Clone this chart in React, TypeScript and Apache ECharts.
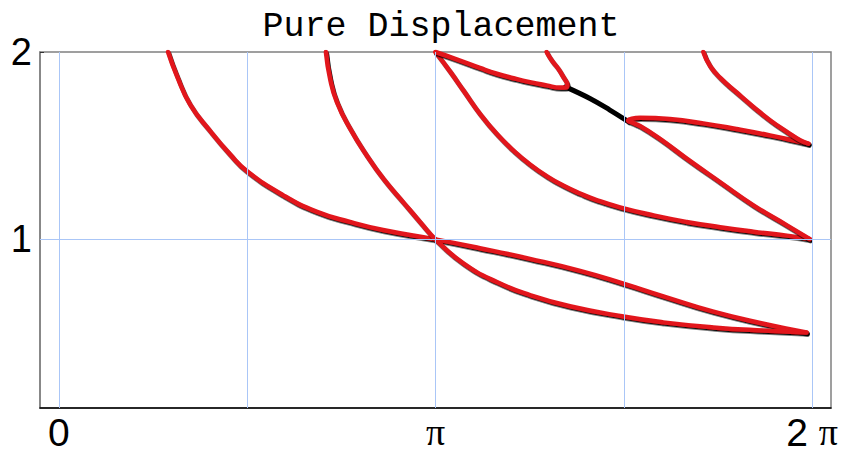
import React, { useEffect, useRef } from "react";
import * as echarts from "echarts";

// x values are in units of π
const TITLE = "Pure Displacement";
const X_GRID = [0, 0.5, 1, 1.5, 2];
const Y_GRID = [1];
const X_LABELS = [0, 1, 2];
const Y_LABELS = [1, 2];

const branchA: number[][] = [
  [0.290, 2.0], [0.3126, 1.877], [0.348, 1.722], [0.401, 1.58], [0.454, 1.455], [0.499, 1.365],
  [0.596, 1.235], [0.684, 1.148], [0.773, 1.093], [0.861, 1.05], [1.0, 1.0],
  [1.118, 0.953], [1.251, 0.896], [1.384, 0.832], [1.499, 0.764], [1.605, 0.696],
  [1.738, 0.614], [1.871, 0.55], [1.985, 0.503],
];
const branchB: number[][] = [
  [0.709, 2.0], [0.72, 1.859], [0.738, 1.734], [0.773, 1.592], [0.817, 1.449], [0.861, 1.325],
  [0.914, 1.199], [0.959, 1.093], [1.0, 1.0],
  [1.074, 0.872], [1.163, 0.772], [1.251, 0.703], [1.357, 0.643], [1.499, 0.588],
  [1.605, 0.557], [1.738, 0.53], [1.871, 0.513], [1.985, 0.503],
];
const branchC: number[][] = [
  [1.0, 2.0], [1.039, 1.895], [1.074, 1.795], [1.118, 1.67], [1.163, 1.562], [1.207, 1.474],
  [1.251, 1.4], [1.295, 1.338], [1.339, 1.287], [1.384, 1.245], [1.428, 1.21], [1.49, 1.171],
  [1.579, 1.128], [1.667, 1.093], [1.756, 1.065], [1.844, 1.041], [1.933, 1.02], [1.993, 1.002],
];
const branchD: number[][] = [
  [1.993, 1.002], [1.933, 1.075], [1.844, 1.182], [1.756, 1.305], [1.667, 1.431], [1.596, 1.536],
  [1.543, 1.605], [1.52, 1.625], [1.511, 1.634], [1.517, 1.642], [1.543, 1.649], [1.622, 1.642],
  [1.711, 1.619], [1.799, 1.589], [1.888, 1.555], [1.976, 1.517], [1.99, 1.511],
];
const branchF: number[][] = [
  [1.99, 1.511], [1.968, 1.529], [1.933, 1.574], [1.888, 1.636], [1.844, 1.707], [1.799, 1.785],
  [1.756, 1.862], [1.729, 1.925], [1.711, 2.0],
];
const branchE: number[][] = [
  [1.0, 2.0], [1.056, 1.961], [1.118, 1.915], [1.163, 1.884], [1.207, 1.86], [1.251, 1.839],
  [1.295, 1.822], [1.331, 1.81], [1.344, 1.81], [1.35, 1.824], [1.347, 1.842], [1.339, 1.868],
  [1.326, 1.911], [1.308, 1.957], [1.295, 2.0],
];
const blackSegment: number[][] = [
  [1.345, 1.814], [1.41, 1.752], [1.463, 1.69], [1.513, 1.627],
];

const RED = "#e2191f";

export default function App() {
  const ref = useRef<HTMLDivElement>(null);
  useEffect(() => {
    if (!ref.current) return;
    const chart = echarts.init(ref.current, null, { renderer: "svg" });
    const redStyle = {
      color: RED,
      width: 4.5,
      cap: "round",
      join: "round",
      shadowColor: "#000",
      shadowOffsetX: 1,
      shadowOffsetY: 1.5,
      shadowBlur: 0,
    };
    const redSeries = (data: number[][]) => ({
      type: "line",
      data,
      showSymbol: false,
      symbol: "none",
      silent: true,
      smooth: 0.5,
      z: 4,
      clip: true,
      lineStyle: redStyle,
    });
    chart.setOption({
      animation: false,
      backgroundColor: "#fff",
      title: {
        text: TITLE,
        left: 436,
        top: 4,
        textAlign: "center",
        textStyle: {
          fontFamily: "Liberation Mono",
          fontSize: 35,
          fontWeight: "normal",
          color: "#000",
        },
      },
      grid: {
        left: 40,
        top: 52,
        right: 16,
        bottom: 46,
        show: true,
        borderColor: "#808080",
        borderWidth: 1.5,
        backgroundColor: "transparent",
      },
      xAxis: {
        type: "value",
        min: -0.05,
        max: 2.05,
        splitLine: { show: false },
        axisLine: { show: true, onZero: false, lineStyle: { color: "#000", width: 1.5 } },
        axisTick: {
          show: true,
          inside: true,
          length: 4,
          customValues: X_LABELS,
          lineStyle: { color: "#555" },
        },
        axisLabel: {
          customValues: X_LABELS,
          margin: 8,
          formatter: (v: number) =>
            v === 0 ? "{n|0}" : v === 1 ? "{p|π}" : "{n|" + v + " }{p|π}",
          rich: {
            n: { fontFamily: "Liberation Sans", fontSize: 39, lineHeight: 32, color: "#000" },
            p: { fontFamily: "Liberation Serif", fontSize: 38, lineHeight: 32, color: "#000" },
          },
        },
      },
      yAxis: {
        type: "value",
        min: 0.1,
        max: 2,
        splitLine: { show: false },
        axisLine: { show: true, onZero: false, lineStyle: { color: "#808080", width: 1.5 } },
        axisTick: {
          show: true,
          inside: true,
          length: 4,
          customValues: Y_LABELS,
          lineStyle: { color: "#333" },
        },
        axisLabel: {
          customValues: Y_LABELS,
          margin: 8,
          fontFamily: "Liberation Sans",
          fontSize: 38,
          color: "#000",
        },
      },
      series: [
        {
          type: "line",
          data: [],
          silent: true,
          z: 1,
          markLine: {
            silent: true,
            symbol: "none",
            animation: false,
            label: { show: false },
            lineStyle: { color: "#aac6f7", width: 1, type: "solid" },
            data: [
              ...X_GRID.map((x) => ({ xAxis: x })),
              ...Y_GRID.map((y) => ({ yAxis: y })),
            ],
          },
        },
        {
          type: "line",
          data: blackSegment,
          showSymbol: false,
          symbol: "none",
          silent: true,
          smooth: 0.4,
          z: 3,
          lineStyle: { color: "#000", width: 5, cap: "round" },
        },
        redSeries(branchA),
        redSeries(branchB),
        redSeries(branchC),
        redSeries(branchD),
        redSeries(branchF),
        redSeries(branchE),
      ],
    });
    return () => chart.dispose();
  }, []);
  return <div ref={ref} style={{ width: 847, height: 454, margin: -8 }} />;
}
